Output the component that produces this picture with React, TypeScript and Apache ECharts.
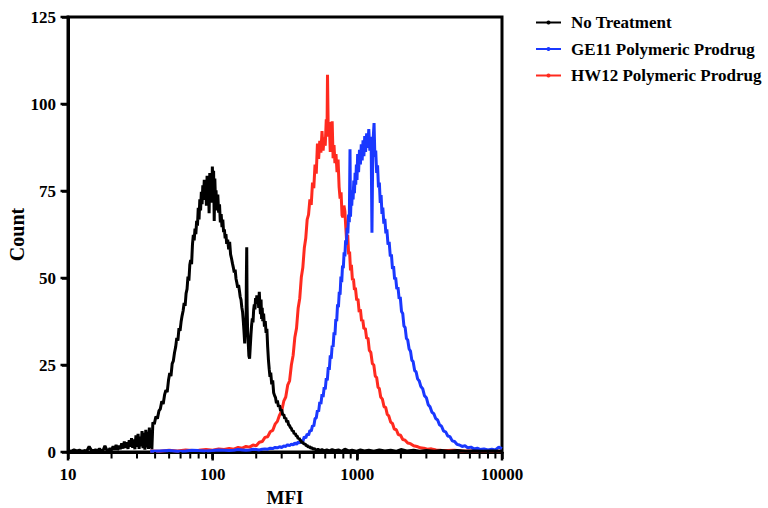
import React, { useEffect, useRef } from "react";
import * as echarts from "echarts";

const seriesNames = ["No Treatment", "GE11 Polymeric Prodrug", "HW12 Polymeric Prodrug"];
const seriesColors = ["#000000", "#1a38ff", "#ff2a1f"];

const xMajorTicks = [10, 100, 1000, 10000];
const xMinorTicks = [20, 30, 40, 50, 60, 70, 80, 90, 200, 300, 400, 500, 600, 700, 800, 900, 2000, 3000, 4000, 5000, 6000, 7000, 8000, 9000];
const yTicks = [0, 25, 50, 75, 100, 125];

// [MFI, Count]
const noTreatment: [number, number][] = [
  [10, 0.4], [10.5, 0.2], [11, 0.6], [11.5, 0.3], [12, 0.5], [12.5, 0.2], [13, 0.4], [13.5, 0.3], [14, 1.6], [14.5, 0.5],
  [15, 0.3], [15.5, 0.6], [16, 0.4], [16.5, 0.9], [17, 0.3], [17.5, 0.5], [18, 1.8], [18.5, 0.6], [19, 0.4], [19.5, 1.0],
  [20, 0.5], [20.5, 1.6], [21, 0.7], [21.5, 2.0], [22, 0.6], [22.5, 1.8], [23, 0.8], [23.5, 2.5], [24, 1.0], [24.5, 3.0],
  [25, 1.2], [25.5, 2.8], [26, 0.9], [26.5, 3.4], [27, 1.5], [27.5, 4.0], [28, 1.2], [28.5, 3.6], [29, 0.8], [29.5, 4.8],
  [30, 1.5], [30.5, 5.2], [31, 0.9], [31.5, 4.4], [32, 1.6], [32.5, 6.0], [33, 1.1], [33.5, 5.5], [34, 0.7], [34.5, 6.4],
  [35, 1.3], [35.5, 5.8], [36, 0.9], [36.5, 7.0], [37, 1.2], [37.5, 6.2], [38, 0.8], [38.6, 8.5], [39.5, 8.0], [40.5, 10.2],
  [41.5, 9.6], [42.5, 11.8], [43.5, 12.4], [44.5, 14.6], [45.5, 13.8], [46.5, 16.4], [47.5, 17.8], [48.5, 17.2], [49.5, 20.6], [50.5, 22.7],
  [51.5, 21.8], [52.5, 25.4], [53.5, 26.2], [54.5, 28.6], [55.5, 30.2], [56.5, 32.8], [57.5, 32.0], [58.5, 35.6], [59.5, 34.8], [60.5, 37.4],
  [61.5, 39.2], [62.5, 40.6], [63.5, 42.8], [64.5, 42.0], [65.5, 45.6], [66.5, 46.8], [67.5, 50.4], [68.5, 49.2], [69.5, 53.8], [70.5, 55.2],
  [71.5, 54.0], [72.5, 59.6], [73.5, 62.4], [74.5, 60.8], [75.5, 64.2], [76.5, 62.6], [77.5, 66.4], [78.5, 65.0], [79.5, 70.2], [80.5, 66.8],
  [81.5, 72.6], [82.5, 69.4], [83.5, 74.8], [84.5, 71.2], [85.5, 76.6], [86.5, 73.0], [87.5, 78.2], [88.5, 72.4], [89.5, 77.6], [90.5, 70.8],
  [91.5, 79.4], [92.5, 74.2], [93.5, 76.8], [94.5, 68.6], [95.5, 80.2], [96.5, 75.4], [97.5, 79.8], [98.5, 71.6], [99.5, 82.0], [100.5, 76.2],
  [101.5, 80.8], [102.5, 66.4], [103.5, 78.6], [104.5, 72.8], [105.5, 75.2], [107, 69.4], [108.5, 74.0], [110, 68.8], [111.5, 71.2], [113, 66.0],
  [114.5, 68.4], [116, 64.6], [117.5, 66.8], [119, 63.2], [120.5, 64.0], [122, 61.4], [123.5, 62.6], [125, 59.8], [127, 61.0], [129, 58.2],
  [131, 60.4], [133, 56.8], [135, 55.6], [137, 54.2], [139, 53.0], [141, 51.6], [143, 52.4], [145, 49.8], [147, 48.6], [149, 47.2],
  [151, 48.0], [153, 46.4], [155, 44.6], [157, 43.8], [159, 41.6], [161, 40.2], [163, 37.4], [165, 34.0], [166.5, 31.2], [168, 36.8],
  [170, 33.4], [171, 50.0], [172, 58.8], [173, 42.0], [174.5, 34.6], [176, 31.8], [178, 27.6], [180, 26.8], [182, 30.4], [184, 33.8],
  [186, 36.6], [188, 38.4], [190, 37.2], [192, 40.8], [194, 42.4], [196, 41.0], [198, 44.2], [200, 42.6], [202, 45.0], [204, 43.2],
  [206, 44.8], [208, 41.4], [210, 46.0], [212, 42.2], [214, 39.6], [216, 43.8], [218, 38.2], [220, 41.4], [222, 37.6], [225, 39.8],
  [228, 36.0], [231, 37.6], [234, 34.2], [237, 35.4], [240, 30.2], [243, 26.4], [246, 23.8], [249, 21.6], [252, 22.8], [256, 19.4],
  [260, 20.6], [264, 17.0], [268, 16.2], [272, 15.6], [276, 14.0], [280, 14.8], [285, 13.0], [290, 13.4], [295, 11.8], [300, 12.2],
  [305, 10.6], [310, 10.8], [315, 9.6], [320, 9.8], [325, 8.6], [330, 9.0], [335, 7.8], [340, 7.6], [345, 7.0], [350, 6.8],
  [355, 6.0], [360, 6.2], [366, 5.2], [372, 5.4], [378, 4.6], [384, 4.6], [390, 3.8], [396, 4.0], [402, 3.4], [408, 3.2],
  [414, 2.6], [420, 2.8], [428, 2.2], [435, 2.4], [443, 1.8], [450, 1.9], [458, 1.4], [466, 1.6], [475, 1.1], [485, 1.2],
  [495, 0.8], [505, 1.0], [520, 0.5], [535, 0.8], [550, 0.4], [570, 0.7], [590, 0.3], [615, 0.6], [640, 0.3], [670, 0.7],
  [700, 0.4], [740, 0.6], [780, 0.2], [820, 0.8], [870, 0.3], [920, 0.5], [980, 0.2], [1050, 0.6], [1120, 0.3], [1200, 0.5],
  [1300, 0.2], [1420, 0.6], [1550, 0.3], [1700, 0.5], [1850, 0.2], [2000, 0.7], [2200, 0.3], [2450, 0.5], [2700, 0.2], [3000, 0.4],
  [3400, 0.2], [3800, 0.4], [4300, 0.2], [4900, 0.4], [5600, 0.2], [6400, 0.3], [7400, 0.2], [8600, 0.3], [10000, 0.2],
];

const ge11: [number, number][] = [
  [37, 0.2], [43, 0.3], [50, 0.4], [57, 0.2], [65, 0.3], [72, 0.5], [80, 0.4], [90, 0.3], [100, 0.4], [110, 0.6],
  [120, 0.5], [130, 0.4], [140, 0.5], [150, 0.7], [160, 0.6], [170, 0.5], [180, 0.6], [190, 0.8], [200, 0.7], [210, 0.6],
  [220, 0.8], [230, 0.9], [240, 0.8], [250, 1.1], [260, 1.0], [270, 1.3], [280, 1.2], [290, 1.5], [300, 1.3], [310, 1.7],
  [320, 1.6], [330, 2.1], [340, 1.8], [350, 2.3], [360, 2.0], [370, 2.6], [380, 2.2], [390, 2.9], [400, 2.6], [410, 3.4],
  [420, 3.0], [430, 4.4], [440, 4.0], [450, 5.2], [460, 4.8], [470, 6.2], [480, 6.0], [490, 7.6], [500, 7.4], [510, 9.6],
  [520, 9.8], [530, 12.0], [540, 11.6], [550, 14.4], [560, 13.8], [570, 16.6], [580, 15.8], [590, 18.6], [600, 18.0], [610, 21.2],
  [620, 20.6], [630, 24.4], [640, 23.6], [650, 27.8], [660, 26.8], [670, 30.6], [680, 30.2], [690, 34.4], [700, 33.6], [710, 38.2],
  [720, 37.6], [730, 42.4], [740, 41.6], [750, 46.0], [760, 45.2], [770, 50.4], [780, 48.8], [790, 53.6], [800, 52.8], [810, 57.4],
  [820, 56.2], [830, 60.8], [840, 59.6], [850, 64.4], [860, 62.8], [870, 68.2], [880, 66.0], [890, 87.0], [897, 67.6], [905, 72.4],
  [915, 70.8], [925, 75.2], [935, 72.6], [945, 78.0], [955, 74.4], [965, 80.2], [975, 76.8], [985, 82.6], [995, 78.2], [1005, 85.6],
  [1020, 80.4], [1035, 86.8], [1050, 82.6], [1065, 88.4], [1080, 83.8], [1095, 89.6], [1110, 85.0], [1125, 90.8], [1140, 86.2], [1160, 91.6],
  [1180, 87.4], [1200, 92.8], [1220, 86.6], [1245, 90.6], [1262, 63.0], [1280, 88.4], [1305, 94.5], [1322, 84.8], [1340, 86.6], [1360, 80.2],
  [1380, 82.4], [1400, 76.0], [1420, 77.4], [1440, 71.6], [1460, 73.8], [1480, 68.4], [1500, 70.2], [1525, 65.6], [1550, 67.0], [1575, 62.8],
  [1600, 64.0], [1630, 59.6], [1660, 60.4], [1690, 56.2], [1720, 56.8], [1750, 52.6], [1780, 53.4], [1810, 49.6], [1840, 50.2], [1875, 46.8],
  [1910, 47.4], [1945, 44.0], [1980, 44.6], [2020, 40.4], [2060, 39.8], [2100, 36.2], [2140, 35.8], [2185, 32.6], [2230, 32.2], [2280, 29.6],
  [2330, 29.0], [2380, 26.4], [2430, 26.0], [2490, 23.4], [2550, 23.0], [2610, 21.0], [2680, 20.4], [2750, 18.8], [2830, 18.2], [2910, 16.2],
  [3000, 15.6], [3090, 13.6], [3180, 13.0], [3280, 11.4], [3380, 11.0], [3480, 9.6], [3590, 9.2], [3700, 7.8], [3820, 7.4], [3950, 6.0],
  [4080, 5.8], [4220, 4.6], [4370, 4.4], [4530, 3.2], [4700, 3.0], [4880, 2.2], [5080, 2.0], [5300, 1.6], [5550, 1.8], [5800, 1.2],
  [6100, 1.4], [6400, 0.9], [6750, 1.1], [7100, 0.7], [7500, 0.9], [8000, 0.6], [8500, 0.8], [9000, 0.6], [9500, 1.4], [10000, 1.0],
];

const hw12: [number, number][] = [
  [37, 0.3], [43, 0.2], [50, 0.5], [57, 0.3], [65, 0.6], [72, 0.4], [80, 0.5], [90, 0.7], [100, 0.5], [110, 0.9],
  [120, 0.7], [130, 1.0], [140, 0.8], [150, 1.3], [160, 1.1], [170, 1.6], [180, 1.4], [190, 2.0], [200, 1.8], [210, 2.8],
  [220, 3.0], [230, 4.2], [240, 4.4], [250, 5.8], [260, 6.2], [270, 8.0], [280, 8.8], [290, 10.6], [300, 11.8], [310, 14.6],
  [320, 15.8], [330, 19.2], [340, 20.4], [350, 25.0], [360, 27.8], [370, 33.0], [380, 35.6], [390, 41.4], [400, 44.2], [410, 50.2],
  [420, 53.0], [430, 58.6], [440, 61.4], [450, 66.8], [460, 68.2], [470, 72.6], [480, 71.0], [490, 77.4], [500, 75.8], [510, 82.6],
  [520, 80.0], [530, 88.6], [540, 84.2], [550, 89.4], [560, 86.0], [570, 92.2], [580, 86.6], [590, 90.4], [600, 88.0], [610, 95.6],
  [617, 91.0], [622, 108.4], [630, 90.6], [640, 94.8], [650, 86.2], [660, 92.6], [670, 95.0], [680, 84.4], [690, 88.2], [700, 83.0],
  [712, 85.6], [724, 80.4], [736, 84.0], [748, 76.2], [760, 72.8], [772, 74.6], [784, 68.0], [796, 67.4], [808, 70.8], [820, 69.2],
  [832, 64.6], [845, 60.0], [858, 62.4], [871, 56.8], [884, 57.6], [897, 52.2], [910, 53.8], [925, 49.4], [940, 49.8], [955, 46.6],
  [970, 47.2], [990, 43.6], [1010, 44.0], [1030, 40.2], [1050, 41.0], [1070, 37.6], [1090, 38.0], [1110, 35.4], [1135, 35.6], [1160, 32.6],
  [1185, 32.8], [1210, 29.2], [1240, 28.6], [1270, 25.4], [1300, 25.0], [1330, 21.8], [1360, 21.4], [1390, 18.6], [1420, 18.2], [1450, 15.8],
  [1490, 15.2], [1530, 13.0], [1570, 12.8], [1610, 10.8], [1650, 10.4], [1700, 8.6], [1750, 8.2], [1800, 6.6], [1860, 6.4], [1920, 5.0],
  [1990, 4.8], [2060, 3.6], [2140, 3.4], [2230, 2.6], [2330, 2.4], [2450, 1.8], [2580, 1.6], [2720, 1.2], [2880, 1.1], [3050, 0.8],
  [3250, 0.9], [3500, 0.6], [3800, 0.5], [4200, 0.4], [4700, 0.5], [5300, 0.3], [6000, 0.3], [7000, 0.2], [8500, 0.2], [10000, 0.2],
];

const FONT = "'Liberation Serif', 'Times New Roman', serif";

export default function App() {
  const ref = useRef<HTMLDivElement>(null);
  useEffect(() => {
    if (!ref.current) return;
    const chart = echarts.init(ref.current, null, { renderer: "svg" });
    const dataBy: Record<string, [number, number][]> = {
      [seriesNames[0]]: noTreatment,
      [seriesNames[1]]: ge11,
      [seriesNames[2]]: hw12,
    };
    const order = [2, 1, 0];

    // tick marks: a custom series drawing small rects at axis values (positions via the axes' scales)
    const tickData = [
      ...xMajorTicks.map((v) => [v, 0, 0]),
      ...xMinorTicks.map((v) => [v, 0, 1]),
      ...yTicks.map((v) => [10, v, 2]),
    ];
    const tickSeries = {
      id: "ticks",
      type: "custom",
      data: tickData,
      clip: false,
      silent: true,
      z: 10,
      renderItem: (_params: any, api: any) => {
        const kind = api.value(2);
        const p = api.coord([api.value(0), api.value(1)]);
        let shape;
        if (kind === 0) shape = { x: p[0] - 1.25, y: p[1], width: 2.5, height: 8.5 };
        else if (kind === 1) shape = { x: p[0] - 1, y: p[1], width: 2, height: 6.5 };
        else shape = { x: p[0] - 7.5, y: p[1] - 1.25, width: 7.5, height: 2.5 };
        return { type: "rect", shape, style: { fill: "#000" } };
      },
    };

    chart.setOption({
      animation: false,
      backgroundColor: "#ffffff",
      grid: {
        left: 68,
        right: 266,
        top: 17,
        bottom: 56,
        containLabel: false,
        outerBoundsMode: "none",
        show: true,
        borderColor: "#000",
        borderWidth: 3,
        backgroundColor: "transparent",
      },
      legend: {
        orient: "vertical",
        left: 530,
        top: 9,
        itemWidth: 25,
        itemHeight: 5,
        itemGap: 9.5,
        data: seriesNames,
        textStyle: {
          fontFamily: FONT,
          fontWeight: "bold",
          fontSize: 17,
          lineHeight: 17,
          color: "#000",
          padding: [0, 0, 0, 5],
        },
      },
      xAxis: {
        type: "log",
        logBase: 10,
        min: 10,
        max: 10000,
        name: "MFI",
        nameLocation: "middle",
        nameGap: 36,
        nameTextStyle: { fontFamily: FONT, fontWeight: "bold", fontSize: 19, color: "#000" },
        axisLine: { show: true, onZero: false, lineStyle: { color: "#000", width: 3 } },
        axisTick: { show: true, length: 7, lineStyle: { color: "#000", width: 2.5 } },
        minorTick: { show: false },
        axisLabel: {
          margin: 14,
          fontFamily: FONT,
          fontWeight: "bold",
          fontSize: 17,
          color: "#000",
          formatter: (v: number) => String(Math.round(v)),
        },
        splitLine: { show: false },
      },
      yAxis: {
        type: "value",
        min: 0,
        max: 125,
        interval: 25,
        name: "Count",
        nameLocation: "middle",
        nameGap: 41,
        nameMoveOverlap: false,
        nameTextStyle: { fontFamily: FONT, fontWeight: "bold", fontSize: 20, color: "#000" },
        axisLine: { show: true, lineStyle: { color: "#000", width: 3 } },
        axisTick: { show: true, length: 6, lineStyle: { color: "#000", width: 2.5 } },
        axisLabel: {
          margin: 12,
          fontFamily: FONT,
          fontWeight: "bold",
          fontSize: 17,
          color: "#000",
        },
        splitLine: { show: false },
      },
      series: [
        ...order.map((i) => ({
          name: seriesNames[i],
          type: "line",
          data: dataBy[seriesNames[i]],
          symbol: "circle",
          symbolSize: 3,
          showSymbol: false,
          color: seriesColors[i],
          lineStyle: { color: seriesColors[i], width: 3 },
          itemStyle: { color: seriesColors[i] },
          clip: false,
        })),
        tickSeries,
      ],
    });

    return () => chart.dispose();
  }, []);
  return (
    <div
      ref={ref}
      style={{ position: "fixed", left: 0, top: 0, width: 768, height: 508, background: "#fff" }}
    />
  );
}
